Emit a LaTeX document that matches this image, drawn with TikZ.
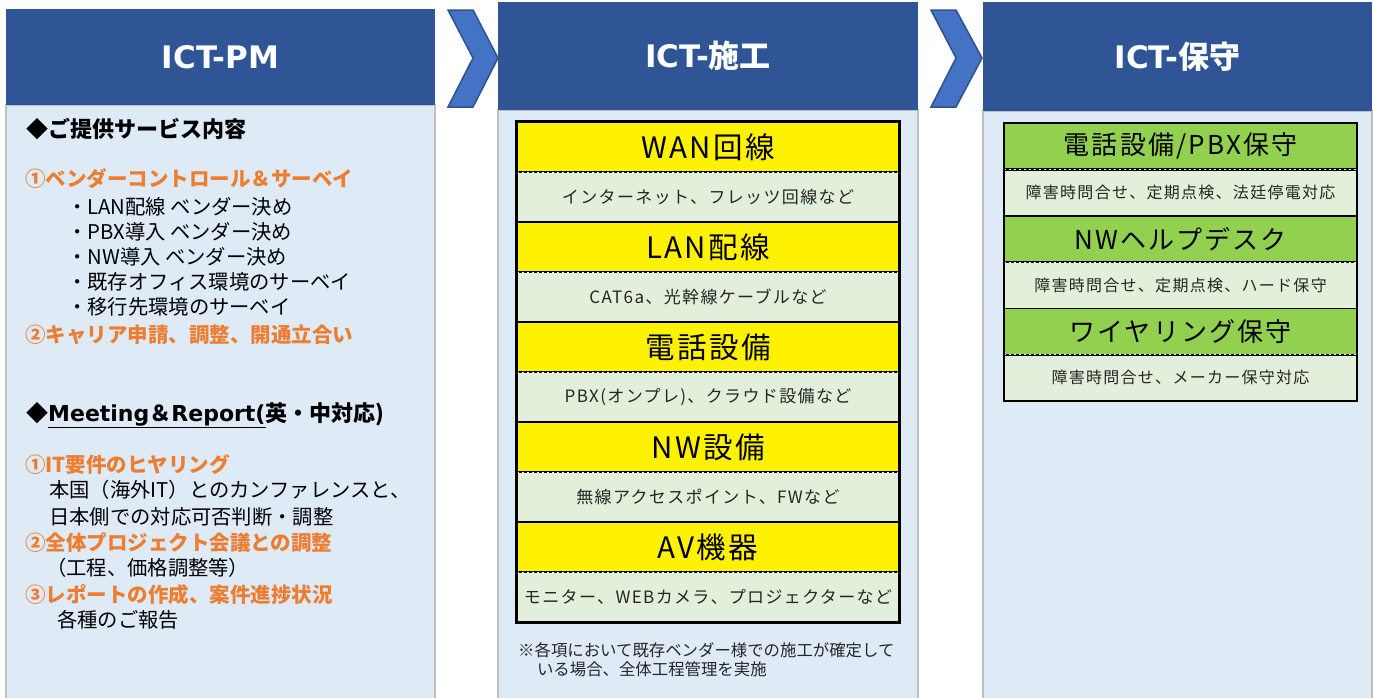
\documentclass[tikz,border=0pt]{standalone}
\usepackage{fontspec}
\setmainfont{Noto Sans CJK JP}
\newfontfamily\spjp[LetterSpace=8]{Noto Sans CJK JP}
\newfontfamily\vsans{DejaVu Sans}
\definecolor{hdblue}{HTML}{2F5597}
\definecolor{bodyblue}{HTML}{DEEBF7}
\definecolor{bordergray}{HTML}{BFBFBF}
\definecolor{chevfill}{HTML}{4472C4}
\definecolor{chevline}{HTML}{2F528F}
\definecolor{subgreen}{HTML}{E2EFDA}
\definecolor{titlegreen}{HTML}{92D050}
\definecolor{pmorange}{HTML}{ED7D31}
\definecolor{txtgray}{HTML}{262626}
\tikzset{
  basenode/.style = {inner sep=0pt, align=center},
  head_node/.style = {basenode, rectangle, fill=hdblue, text=white, font=\fontsize{31}{36}\selectfont\bfseries},
  body_box/.style = {fill=bodyblue, draw=bordergray, line width=2pt},
  chevron/.style = {fill=chevfill, draw=chevline, line width=1.5pt, line join=miter},
  pm_head/.style = {basenode, anchor=west, text=black, font=\fontsize{22}{26}\selectfont\bfseries},
  pm_item/.style = {basenode, anchor=west, text=pmorange, font=\fontsize{20.5}{24}\selectfont\bfseries},
  pm_text/.style = {basenode, anchor=west, text=black, font=\fontsize{20.3}{24}\selectfont},
  work_title/.style = {basenode, rectangle, fill=yellow, minimum width=382pt, minimum height=50pt, text=black, font=\spjp\fontsize{29.5}{34}\selectfont},
  work_sub/.style = {basenode, rectangle, fill=subgreen, minimum width=382pt, minimum height=50pt, text=txtgray, font=\spjp\fontsize{17}{20}\selectfont},
  keep_title/.style = {basenode, rectangle, fill=titlegreen, minimum width=353pt, minimum height=46.33pt, text=black, font=\spjp\fontsize{26}{30}\selectfont},
  keep_sub/.style = {basenode, rectangle, fill=subgreen, minimum width=353pt, minimum height=46.33pt, text=txtgray, font=\spjp\fontsize{16}{19}\selectfont},
  cut_line/.style = {line width=2.5pt, draw=black, postaction={draw=white, line width=0.8pt, dash pattern=on 2.5pt off 2.5pt}},
  note_text/.style = {basenode, anchor=west, align=left, text=txtgray, font=\fontsize{16.4}{19.5}\selectfont},
}
\begin{document}
\begin{tikzpicture}[x=1pt,y=-1pt]
  \useasboundingbox (0,0) rectangle (1373,697);
  \fill[white] (0,0) rectangle (1373,697);

  % columns
  \draw[body_box] (6,105) rectangle (435,705);
  \draw[body_box] (498,110) rectangle (918,705);
  \draw[body_box] (983,111) rectangle (1372,705);
  \node[head_node, minimum width=429pt, minimum height=96pt] (hdpm) at (220.5,57) {{\vsans ICT-PM}};
  \node[head_node, minimum width=420pt, minimum height=108pt] (hdwork) at (708,56) {{\vsans ICT-}施工};
  \node[head_node, minimum width=389pt, minimum height=109pt] (hdkeep) at (1177.5,56.5) {{\vsans ICT-}保守};

  % chevrons
  \draw[chevron] (448,10) -- (473,10) -- (498,58) -- (473,107) -- (448,107) -- (473,58) -- cycle;
  \draw[chevron] (931,10) -- (956,10) -- (982,58) -- (956,107) -- (931,107) -- (956,58) -- cycle;

  % ICT-PM
  \node[pm_head] (pm1) at (26,129) {◆ご提供サービス内容};
  \node[pm_item] (pm2) at (25,179) {①ベンダーコントロール＆サーベイ};
  \foreach \t [count=\i] in {・LAN配線 ベンダー決め, ・PBX導入 ベンダー決め, ・NW導入 ベンダー決め, ・既存オフィス環境のサーベイ, ・移行先環境のサーベイ}
    \node[pm_text] (pl\i) at (67,181.5+25*\i) {\t};
  \node[pm_item] (pm3) at (25,335) {②キャリア申請、調整、開通立合い};
  \node[pm_head] (pm4) at (26,415) {◆\underline{{\vsans Meeting}＆{\vsans Report(}}英・中対応)};
  \node[pm_item] (pm5) at (25,465) {①IT要件のヒヤリング};
  \node[pm_text] (pm6) at (49,490) {本国（海外IT）とのカンファレンスと、};
  \node[pm_text] (pm7) at (49,517) {日本側での対応可否判断・調整};
  \node[pm_item] (pm8) at (25,543) {②全体プロジェクト会議との調整};
  \node[pm_text] (pm9) at (46,568) {（工程、価格調整等）};
  \node[pm_item] (pm10) at (25,595) {③レポートの作成、案件進捗状況};
  \node[pm_text] (pm11) at (57,620) {各種のご報告};

  % ICT-施工
  \foreach \ttl/\sub [count=\i from 0] in {WAN回線/インターネット、フレッツ回線など, LAN配線/CAT6a、光幹線ケーブルなど, 電話設備/PBX(オンプレ)、クラウド設備など, NW設備/無線アクセスポイント、FWなど, AV機器/モニター、WEBカメラ、プロジェクターなど}{
    \node[work_title] (wt\i) at (708,147+100*\i) {\ttl};
    \node[work_sub] (ws\i) at (708,197+100*\i) {\sub};
    \draw[cut_line] (wt\i.south west) -- (wt\i.south east);
  }
  \foreach \i in {0,...,3}
    \draw[line width=2.5pt] (ws\i.south west) -- (ws\i.south east);
  \draw[line width=3pt] (wt0.north west) rectangle (ws4.south east);
  \node[note_text] (note) at (518,659.5) {※各項において既存ベンダー様での施工が確定して\\\hspace*{1.15em}いる場合、全体工程管理を実施};

  % ICT-保守
  \foreach \ttl/\sub [count=\i from 0] in {{電話設備/PBX保守}/障害時問合せ、定期点検、法廷停電対応, NWヘルプデスク/障害時問合せ、定期点検、ハード保守, ワイヤリング保守/障害時問合せ、メーカー保守対応}{
    \node[keep_title] (kt\i) at (1180.5,146.17+92.67*\i) {\ttl};
    \node[keep_sub] (ks\i) at (1180.5,192.5+92.67*\i) {\sub};
    \draw[cut_line] (kt\i.south west) -- (kt\i.south east);
  }
  \foreach \i in {0,1}
    \draw[line width=1.5pt] (ks\i.south west) -- (ks\i.south east);
  \draw[line width=1.5pt] (kt0.north west) rectangle (ks2.south east);
\end{tikzpicture}
\end{document}
